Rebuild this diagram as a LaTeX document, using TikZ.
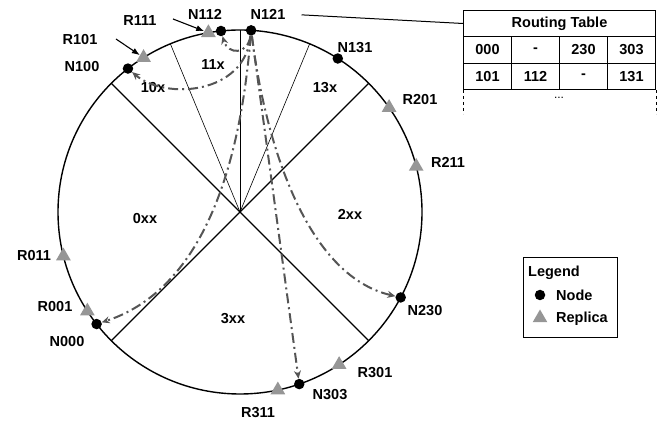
\documentclass[tikz,border=0pt]{standalone}
\usepackage{fontspec}
\setmainfont{Liberation Sans}
\usetikzlibrary{arrows.meta,shapes.geometric,calc}
\definecolor{tri}{RGB}{150,150,150}
\definecolor{arr}{RGB}{85,85,85}
\begin{document}
\begin{tikzpicture}[x=1pt,y=1pt,
  lbl/.style={font=\fontsize{14.5}{17}\selectfont\bfseries, inner sep=0pt},
  dotn/.style={circle, fill=black, minimum size=10.5pt, inner sep=0pt},
  repl/.style={regular polygon, regular polygon sides=3, fill=tri, minimum size=17pt, inner sep=0pt},
  ring/.style={line width=1.4pt},
  sect/.style={line width=1.4pt},
  thinsect/.style={line width=0.6pt},
  route/.style={arr, line width=2pt, dash pattern=on 10pt off 4pt on 2pt off 4pt, -{Stealth[length=8pt,width=7pt]}},
  pointer/.style={line width=1.1pt, -{Latex[length=8pt,width=6pt]}},
  cell/.style={draw, line width=1pt, minimum width=48pt, minimum height=26.5pt, inner sep=0pt, anchor=north west, font=\fontsize{14.5}{17}\selectfont\bfseries}
]
\useasboundingbox (0,0) rectangle (663,422);
\coordinate (C) at (240,210);
% ring and sectors
\draw[ring] (C) circle (182);
\draw[sect] ($(C)+(45:182)$) -- ($(C)+(225:182)$);
\draw[sect] ($(C)+(135:182)$) -- ($(C)+(-45:182)$);
\draw[thinsect] (C) -- ($(C)+(67.5:182)$);
\draw[thinsect] (C) -- ($(C)+(90:182)$);
\draw[thinsect] (C) -- ($(C)+(112.5:182)$);
% sector labels
\node[lbl] (s0) at (145,203) {0xx};
\node[lbl] (s2) at (350,208) {2xx};
\node[lbl] (s3) at (233,103) {3xx};
\node[lbl] (s10) at (153,334) {10x};
\node[lbl] (s11) at (213,357) {11x};
\node[lbl] (s13) at (325,334) {13x};
% replicas
\node[repl] (R111) at ($(C)+(100:182)$) {};
\node[repl] (R101) at ($(C)+(122:182)$) {};
\node[repl] (R201) at ($(C)+(35:182)$) {};
\node[repl] (R211) at ($(C)+(14.5:182)$) {};
\node[repl] (R301) at ($(C)+(-57:182)$) {};
\node[repl] (R311) at ($(C)+(-78:182)$) {};
\node[repl] (R001) at ($(C)+(213:182)$) {};
\node[repl] (R011) at ($(C)+(194:182)$) {};
% nodes
\node[dotn] (N121) at ($(C)+(86.5:182)$) {};
\node[dotn] (N112) at ($(C)+(96:182)$) {};
\node[dotn] (N100) at ($(C)+(128:182)$) {};
\node[dotn] (N131) at ($(C)+(57.5:182)$) {};
\node[dotn] (N230) at ($(C)+(-28:182)$) {};
\node[dotn] (N303) at ($(C)+(-71:182)$) {};
\node[dotn] (N000) at ($(C)+(218:182)$) {};
% labels
\node[lbl] (lN121) at (268,408) {N121};
\node[lbl] (lN112) at (205,408) {N112};
\node[lbl] (lR111) at (140,401) {R111};
\node[lbl] (lR101) at (80,382) {R101};
\node[lbl] (lN100) at (82,355) {N100};
\node[lbl] (lN131) at (355,374) {N131};
\node[lbl] (lR201) at (420,322) {R201};
\node[lbl] (lR211) at (448,260) {R211};
\node[lbl] (lN230) at (425,111) {N230};
\node[lbl] (lR301) at (375,49) {R301};
\node[lbl] (lN303) at (330,27) {N303};
\node[lbl] (lR311) at (258,9) {R311};
\node[lbl] (lN000) at (67,80) {N000};
\node[lbl] (lR001) at (55,115) {R001};
\node[lbl] (lR011) at (34,166) {R011};
% pointers to replicas
\coordinate (aR111) at (173,403);
\coordinate (aR101) at (116,383);
\draw[pointer] (aR111) -- (R111);
\draw[pointer] (aR101) -- (R101);
% routes
\draw[route] (N121) .. controls (245,327) and (165,322) .. (N100);
\draw[route] (N121) .. controls (248,367) and (228,367) .. (N112);
\draw[route] (N121) .. controls (235,192) and (170,122) .. (N000);
\draw[route] (N121) .. controls (265,282) and (305,147) .. (N230);
\draw[route] (N121) -- (N303);
% routing table
\node[cell, minimum width=192pt, minimum height=26pt] (rt) at (463,412) {Routing Table};
\node[cell, minimum height=27pt] (c11) at (463,386) {000};
\node[cell, minimum height=27pt] (c12) at (511,386) {-};
\node[cell, minimum height=27pt] (c13) at (559,386) {230};
\node[cell, minimum height=27pt] (c14) at (607,386) {303};
\node[cell, minimum height=26pt] (c21) at (463,359) {101};
\node[cell, minimum height=26pt] (c22) at (511,359) {112};
\node[cell, minimum height=26pt] (c23) at (559,359) {-};
\node[cell, minimum height=26pt] (c24) at (607,359) {131};
\draw[line width=1pt, dashed] (c21.south west) -- ++(0,-24);
\draw[line width=1pt, dashed] (c24.south east) -- ++(0,-24);
\node[font=\fontsize{12}{13}\selectfont] (more) at (559,324) {...};
\draw[line width=1pt, shorten <=16pt] (lN121.east) -- (rt.west);
% legend
\node[draw, line width=1.1pt, minimum width=94pt, minimum height=80pt, anchor=south west, inner sep=0pt] (legend) at (523,84) {};
\node[lbl, anchor=west] (legtitle) at (528,149) {Legend};
\node[dotn] (legdot) at (540,127) {};
\node[lbl, anchor=west] (legnode) at (556,127) {Node};
\node[repl] (legtri) at (540,104) {};
\node[lbl, anchor=west] (legrepl) at (556,103) {Replica};
\end{tikzpicture}
\end{document}
